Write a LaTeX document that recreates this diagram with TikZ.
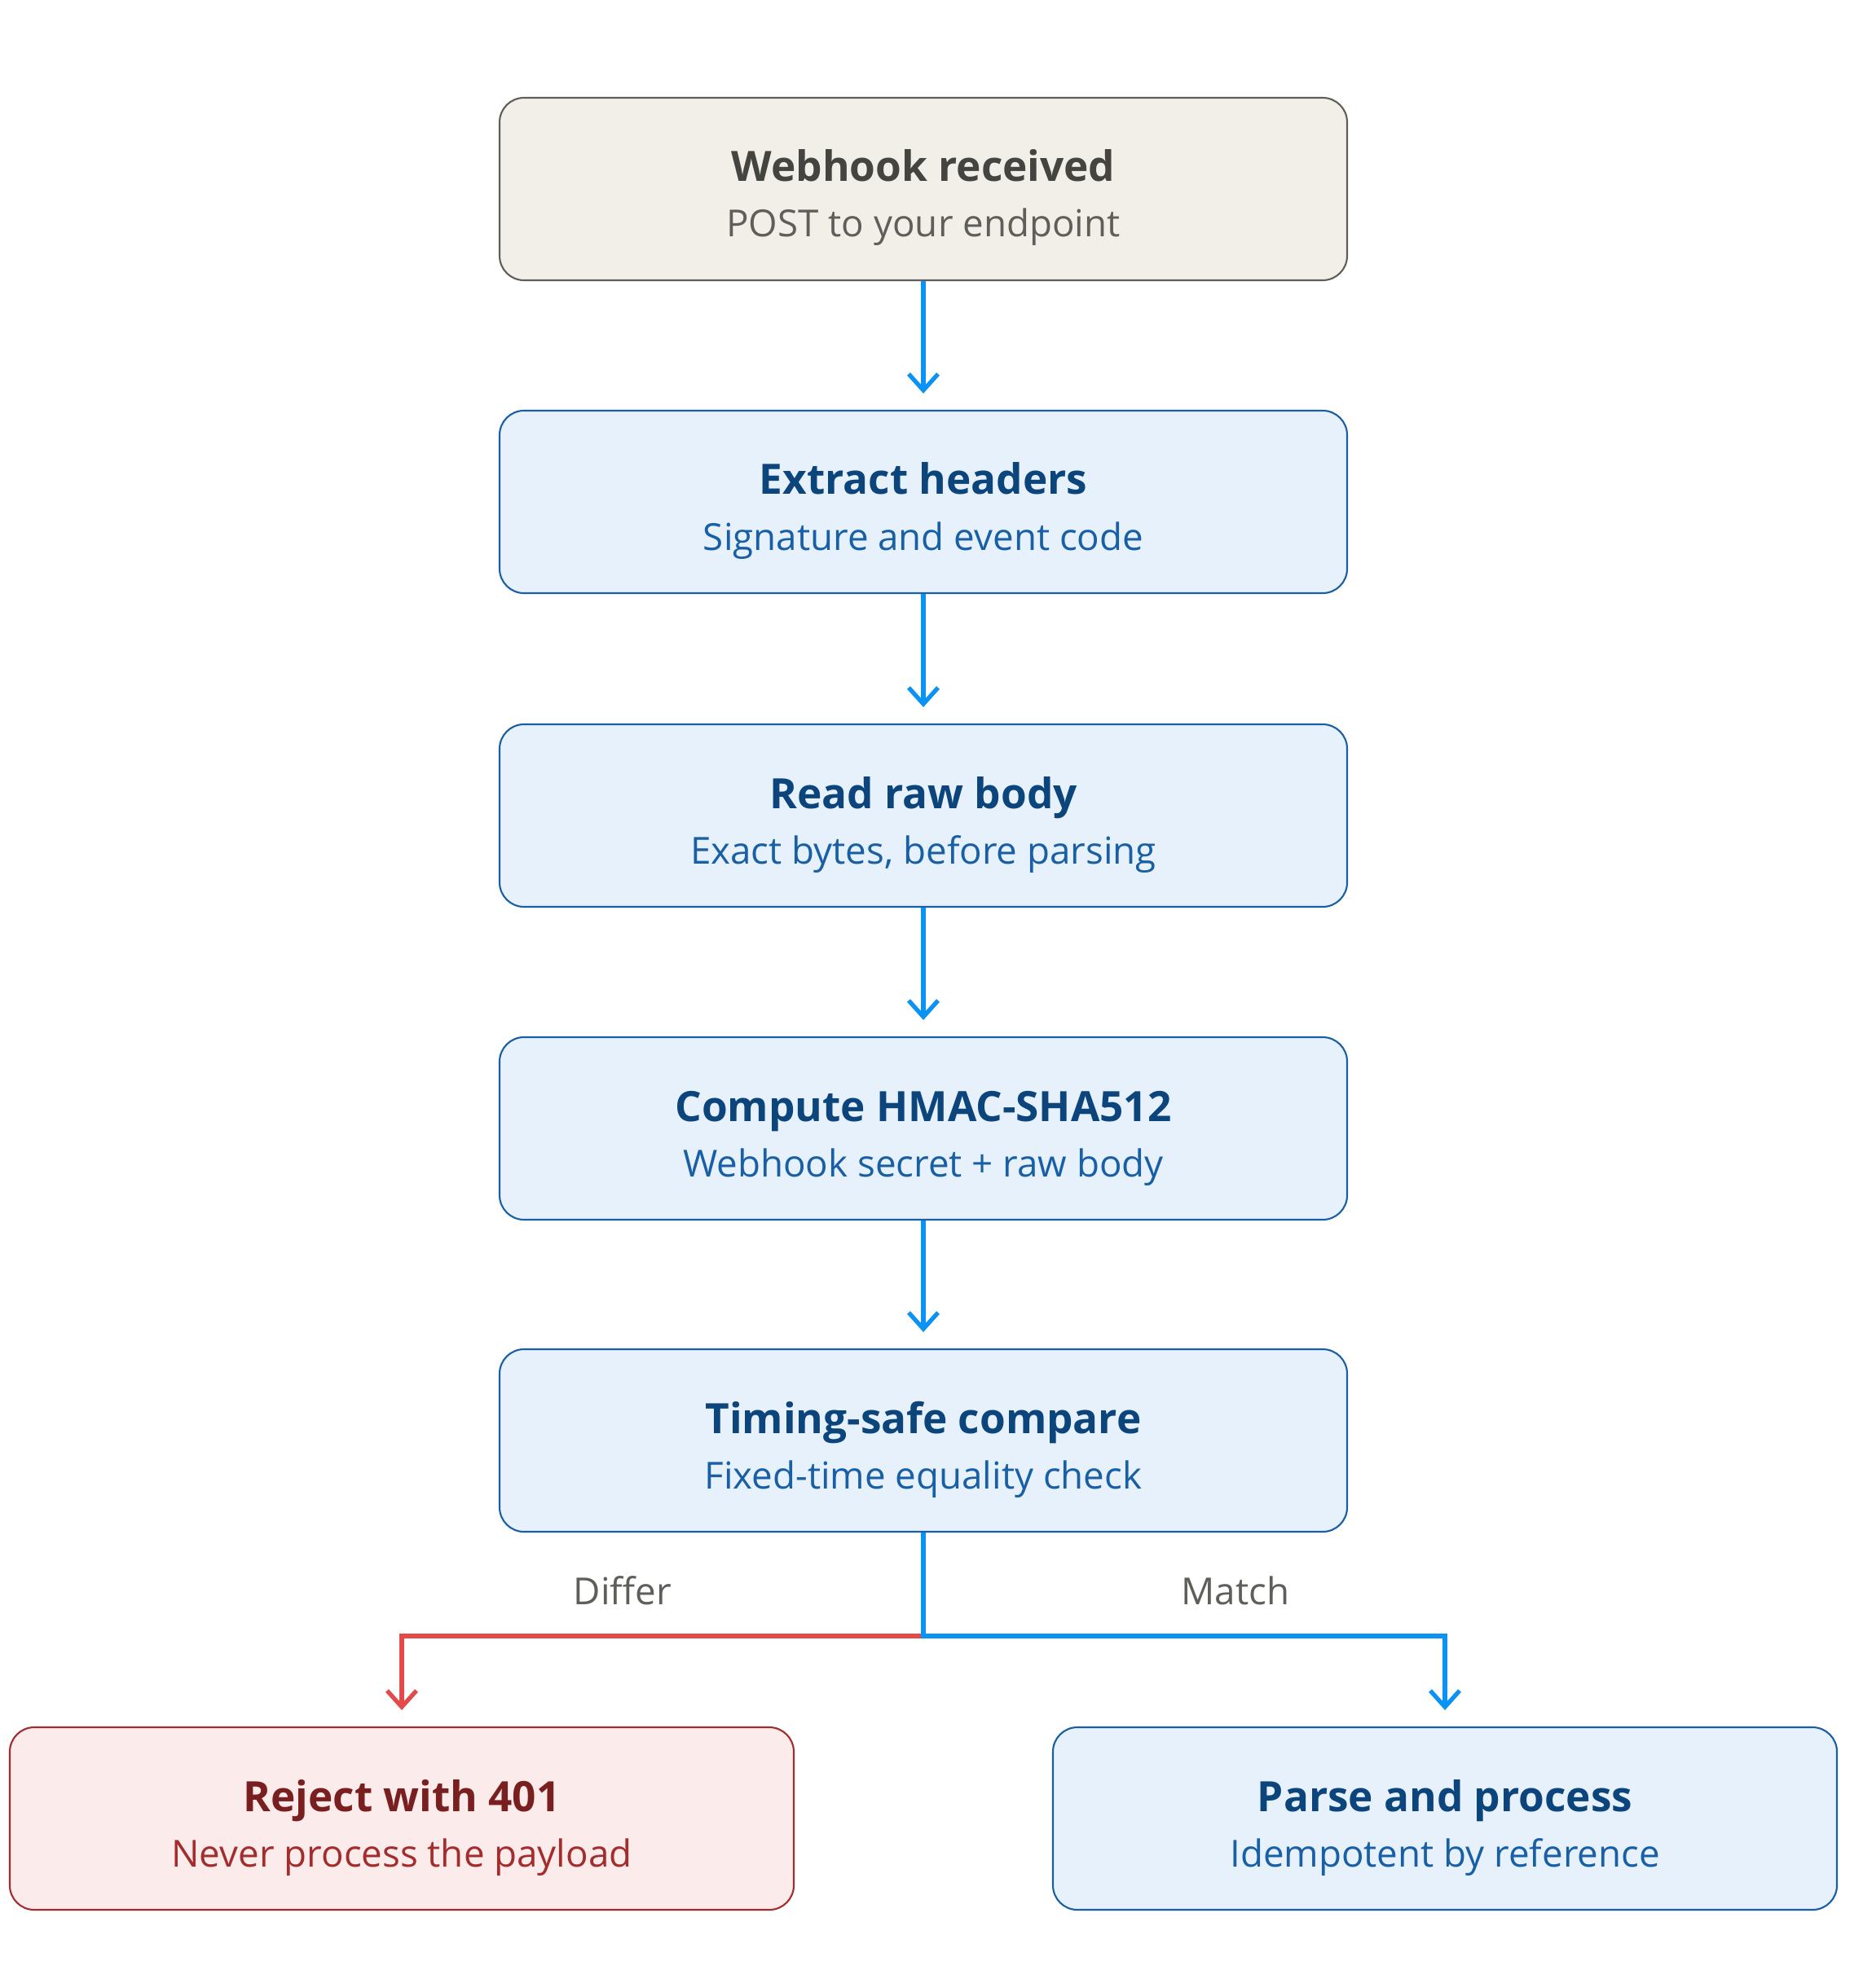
\documentclass[tikz,border=0pt]{standalone}
\usepackage{fontspec}
\setmainfont{Open Sans}
\usetikzlibrary{arrows.meta}
\definecolor{grayfill}{HTML}{F1EFE8}
\definecolor{graydraw}{HTML}{5F5E5A}
\definecolor{graytitle}{HTML}{444441}
\definecolor{bluefill}{HTML}{E6F1FB}
\definecolor{bluedraw}{HTML}{185FA5}
\definecolor{bluetitle}{HTML}{0C447C}
\definecolor{redfill}{HTML}{FCEBEB}
\definecolor{reddraw}{HTML}{A32D2D}
\definecolor{redtitle}{HTML}{791F1F}
\definecolor{arrowblue}{HTML}{0A93F5}
\definecolor{arrowred}{HTML}{E24B4A}
\tikzset{
  box/.style={rectangle, rounded corners=0.3cm, minimum width=10.4cm, minimum height=2.24cm, line width=0.6pt, inner sep=0pt},
  graybox/.style={box, fill=grayfill, draw=graydraw},
  bluebox/.style={box, fill=bluefill, draw=bluedraw},
  redbox/.style={box, fill=redfill, draw=reddraw, minimum width=9.62cm},
  bluebox2/.style={bluebox, minimum width=9.62cm},
  ttl/.style={anchor=base, font=\fontsize{14.6pt}{17pt}\selectfont\bfseries},
  sub/.style={anchor=base, font=\fontsize{13pt}{15pt}\selectfont},
  flow/.style={draw=arrowblue, line width=1.5pt, -{Straight Barb[length=0.2cm, width=0.36cm, line width=1.5pt]}, shorten >=0.2cm},
  redflow/.style={draw=arrowred, line width=1.5pt, -{Straight Barb[length=0.2cm, width=0.36cm, line width=1.5pt]}, shorten >=0.2cm},
  lbl/.style={font=\fontsize{13pt}{15pt}\selectfont, text=graydraw}
}
\begin{document}
\begin{tikzpicture}
\useasboundingbox[fill=white] (0,0) rectangle (22.85,-24.40);
% nodes
\node[graybox] (recv) at (11.33,-2.32) {};
\node[ttl, text=graytitle] (recvT) at ([yshift=0.09cm]recv.center) {Webhook received};
\node[sub, text=graydraw] (recvS) at ([yshift=-0.59cm]recv.center) {POST to your endpoint};

\node[bluebox] (hdr) at (11.33,-6.16) {};
\node[ttl, text=bluetitle] (hdrT) at ([yshift=0.09cm]hdr.center) {Extract headers};
\node[sub, text=bluedraw] (hdrS) at ([yshift=-0.59cm]hdr.center) {Signature and event code};

\node[bluebox] (raw) at (11.33,-10.01) {};
\node[ttl, text=bluetitle] (rawT) at ([yshift=0.09cm]raw.center) {Read raw body};
\node[sub, text=bluedraw] (rawS) at ([yshift=-0.59cm]raw.center) {Exact bytes, before parsing};

\node[bluebox] (hmac) at (11.33,-13.85) {};
\node[ttl, text=bluetitle] (hmacT) at ([yshift=0.09cm]hmac.center) {Compute HMAC-SHA512};
\node[sub, text=bluedraw] (hmacS) at ([yshift=-0.59cm]hmac.center) {Webhook secret + raw body};

\node[bluebox] (cmp) at (11.33,-17.68) {};
\node[ttl, text=bluetitle] (cmpT) at ([yshift=0.09cm]cmp.center) {Timing-safe compare};
\node[sub, text=bluedraw] (cmpS) at ([yshift=-0.59cm]cmp.center) {Fixed-time equality check};

\node[redbox] (rej) at (4.93,-22.32) {};
\node[ttl, text=redtitle] (rejT) at ([yshift=0.09cm]rej.center) {Reject with 401};
\node[sub, text=reddraw] (rejS) at ([yshift=-0.59cm]rej.center) {Never process the payload};

\node[bluebox2] (proc) at (17.73,-22.32) {};
\node[ttl, text=bluetitle] (procT) at ([yshift=0.09cm]proc.center) {Parse and process};
\node[sub, text=bluedraw] (procS) at ([yshift=-0.59cm]proc.center) {Idempotent by reference};

% connectors
\draw[flow] (recv.south) -- (hdr.north);
\draw[flow] (hdr.south) -- (raw.north);
\draw[flow] (raw.south) -- (hmac.north);
\draw[flow] (hmac.south) -- (cmp.north);

\coordinate (junc) at (11.33,-20.08);
\draw[redflow] (junc) -| (rej.north);
\draw[flow] (cmp.south) -- (junc) -| (proc.north);

\node[lbl] (differ) at (7.64,-19.52) {Differ};
\node[lbl] (match) at (15.16,-19.52) {Match};
\end{tikzpicture}
\end{document}
